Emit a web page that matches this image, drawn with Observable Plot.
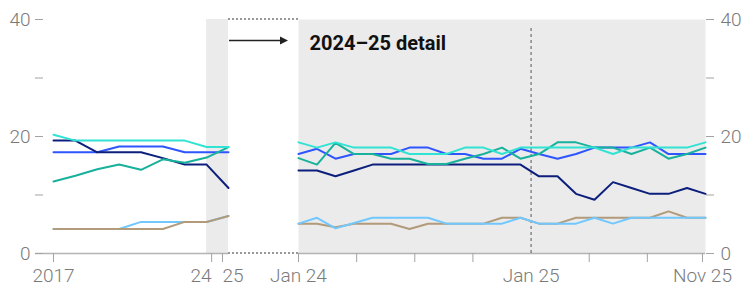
<!DOCTYPE html>
<html><head><meta charset="utf-8">
<script src="https://cdn.jsdelivr.net/npm/d3@7"></script>
<script src="https://cdn.jsdelivr.net/npm/@observablehq/plot@0.6"></script>
<style>
body{margin:0;background:#fff}
#chart{position:relative;width:747px;height:289px}
#chart svg{position:absolute;left:0;top:0}
</style></head><body><div id="chart"></div>
<script>
// ---- data ----
const seriesNames = ["S1 turquoise","S2 blue","S3 navy","S4 teal","S5 sky","S6 sand"];
const seriesColors = ["#30e3d2","#2f55ff","#0c1f7c","#17b19c","#70c8ff","#b19b7a"];

const years = [2017,2018,2019,2020,2021,2022,2023,2024,2025];
const annualS1 = [20.3,19.3,19.3,19.3,19.3,19.3,19.3,18.2,18.2];
const annualS2 = [17.3,17.3,17.3,18.3,18.3,18.3,17.3,17.3,17.3];
const annualS3 = [19.3,19.3,17.3,17.3,17.3,16.3,15.2,15.2,11.2];
const annualS4 = [12.3,13.3,14.4,15.2,14.3,16.1,15.5,16.4,18.2];
const annualS5 = [4.2,4.2,4.2,4.2,5.4,5.4,5.4,5.4,6.4];
const annualS6 = [4.2,4.2,4.2,4.2,4.2,4.2,5.4,5.4,6.4];

const months = ["Jan 24","Feb 24","Mar 24","Apr 24","May 24","Jun 24","Jul 24","Aug 24","Sep 24","Oct 24","Nov 24","Dec 24",
                "Jan 25","Feb 25","Mar 25","Apr 25","May 25","Jun 25","Jul 25","Aug 25","Sep 25","Oct 25","Nov 25"];
const monthlyS1 = [19.0,18.1,19.0,18.1,18.1,18.1,17.0,17.0,17.0,18.1,18.1,17.0,18.1,18.1,18.1,18.1,18.1,17.0,18.1,18.1,18.1,18.1,19.0];
const monthlyS2 = [17.0,17.9,16.2,17.0,17.0,17.0,18.1,18.1,17.0,17.0,16.2,16.2,17.9,17.0,16.2,17.0,18.1,18.1,18.1,19.0,17.0,17.0,17.0];
const monthlyS3 = [14.2,14.2,13.2,14.2,15.2,15.2,15.2,15.2,15.2,15.2,15.2,15.2,15.2,13.2,13.2,10.2,9.2,12.2,11.2,10.2,10.2,11.2,10.2];
const monthlyS4 = [16.3,15.2,18.9,17.0,17.0,16.2,16.2,15.3,15.3,16.2,17.0,18.1,16.2,17.0,19.0,19.0,18.1,18.1,17.0,18.1,16.2,17.0,18.1];
const monthlyS5 = [5.1,6.1,4.3,5.2,6.1,6.1,6.1,6.1,5.1,5.1,5.1,5.1,6.1,5.1,5.1,5.1,6.1,5.1,6.1,6.1,6.1,6.1,6.1];
const monthlyS6 = [5.1,5.1,4.5,5.1,5.1,5.1,4.2,5.1,5.1,5.1,5.1,6.1,6.1,5.1,5.1,6.1,6.1,6.1,6.1,6.1,7.2,6.1,6.1];

const yTicks = [0,10,20,30,40];
const yTickLabels = ["0","","20","","40"];
const leftXTicks = [2017,2024,2025];
const leftXTickLabels = ["2017","24","25"];
const rightTickCount = 8;
const rightTickLabels = ["Jan 24","","","","Jan 25","","","Nov 25"];
const detailLabel = "2024–25 detail";
const shadeYears = [2024,2025];

// ---- build tables ----
const annualSeries = [annualS1, annualS2, annualS3, annualS4, annualS5, annualS6];
const monthlySeries = [monthlyS1, monthlyS2, monthlyS3, monthlyS4, monthlyS5, monthlyS6];
const leftOrder = [4,5,1,2,3,0];
const rightOrder = [5,4,2,1,3,0];
const annual = leftOrder.flatMap(k => years.map((yr,i) => ({s: seriesNames[k], x: yr, v: annualSeries[k][i]})));
const monthly = rightOrder.flatMap(k => months.map((m,i) => ({s: seriesNames[k], x: i, v: monthlySeries[k][i]})));

const W = 747, H = 289;
const font = "Roboto, 'Liberation Sans', sans-serif";
const axisText = "#7a7a7a", axisTick = "#a3a3a3", baseCol = "#b4b4b4";
const baseStyle = {fontFamily: font, fontSize: "19px", fontWeight: 300, background: "none", overflow: "visible"};
const color = {domain: seriesNames, range: seriesColors};
const yTickFmt = d => yTickLabels[yTicks.indexOf(d)];

const left = Plot.plot({
  width: W, height: H,
  marginLeft: 43, insetLeft: 10, marginRight: W - 228, marginTop: 19, marginBottom: 36,
  x: {domain: [years[0], years[years.length-1]], label: null},
  y: {domain: [0, 40], label: null},
  color,
  style: baseStyle,
  marks: [
    Plot.rect([shadeYears], {x1: d => d[0], x2: d => d[1], y1: 0, y2: 40, fill: "#ebebeb"}),
    Plot.ruleY([0], {stroke: baseCol, strokeWidth: 1.6, insetLeft: -8}),
    Plot.axisY({ticks: yTicks, tickFormat: yTickFmt, tickSize: 8, tickPadding: 5, stroke: axisTick, fill: axisText, label: null}),
    Plot.axisX({ticks: [leftXTicks[0]], tickFormat: () => leftXTickLabels[0], tickSize: 9, tickPadding: 6, stroke: axisTick, fill: axisText, label: null}),
    Plot.axisX({ticks: [leftXTicks[1]], tickFormat: () => leftXTickLabels[1], tickSize: 9, tickPadding: 6, textAnchor: "end", dx: 5, stroke: axisTick, fill: axisText, label: null}),
    Plot.axisX({ticks: [leftXTicks[2]], tickFormat: () => leftXTickLabels[2], tickSize: 9, tickPadding: 6, textAnchor: "start", dx: -6, stroke: axisTick, fill: axisText, label: null}),
    Plot.line(annual, {x: "x", y: "v", z: "s", stroke: "s", strokeWidth: 2, strokeLinejoin: "miter"})
  ]
});

const rightTicks = d3.range(rightTickCount).map(k => k * (months.length - 1) / (rightTickCount - 1));
const janIdx = rightTickLabels.indexOf("Jan 25");
const lastIdx = rightTickCount - 1;
const right = Plot.plot({
  width: W, height: H,
  marginLeft: 298, marginRight: 42, marginTop: 19, marginBottom: 36,
  x: {domain: [0, months.length - 1], label: null},
  y: {domain: [0, 40], label: null},
  color,
  style: baseStyle,
  marks: [
    Plot.frame({fill: "#ebebeb", stroke: null}),
    Plot.ruleY([0], {stroke: baseCol, strokeWidth: 1.6}),
    Plot.axisY({anchor: "right", ticks: yTicks, tickFormat: yTickFmt, tickSize: 8, tickPadding: 7, stroke: axisTick, fill: axisText, label: null}),
    Plot.axisX({ticks: rightTicks.filter((t,i) => i !== janIdx && i !== lastIdx), tickFormat: d => rightTickLabels[rightTicks.indexOf(d)], tickSize: 9, tickPadding: 6, stroke: axisTick, fill: axisText, label: null}),
    Plot.axisX({ticks: [rightTicks[lastIdx]], tickFormat: () => rightTickLabels[lastIdx], tickSize: 9, tickPadding: 6, dx: -3, stroke: axisTick, fill: axisText, label: null}),
    Plot.axisX({ticks: [rightTicks[janIdx]], tickFormat: () => rightTickLabels[janIdx], tickSize: 0, tickPadding: 15, fill: axisText, label: null}),
    Plot.ruleX([rightTicks[janIdx]], {y1: 0, y2: 40, insetBottom: -9, stroke: "#555", strokeWidth: 1, strokeDasharray: "3,3"}),
    Plot.line(monthly, {x: "x", y: "v", z: "s", stroke: "s", strokeWidth: 2, strokeLinejoin: "miter"}),
    Plot.text([detailLabel], {x: 0, y: 40, dx: 11, dy: 24, text: d => d, textAnchor: "start", fontWeight: "bold", fontSize: 20, fill: "#111"})
  ]
});

const chart = document.getElementById("chart");
chart.append(left);
chart.append(right);

// connectors drawn from the library's scales
const xl = left.scale("x"), xr = right.scale("x"), ys = left.scale("y");
const xa = xl.apply(years[years.length-1]), xb = xr.apply(0);
const yTop = ys.apply(40), yBot = ys.apply(0);
const ov = d3.select(chart).append("svg").attr("width", W).attr("height", H).style("overflow","visible");
ov.selectAll("line.dot").data([yTop, yBot]).join("line")
  .attr("x1", xa).attr("x2", xb).attr("y1", d => d).attr("y2", d => d)
  .attr("stroke", "#333").attr("stroke-width", 1.2).attr("stroke-dasharray", "2,2");
const ay = yTop + 21.5;
ov.append("line").attr("x1", xa + 1).attr("x2", xb - 16).attr("y1", ay).attr("y2", ay)
  .attr("stroke", "#222").attr("stroke-width", 1.3);
ov.append("path").attr("d", `M${xb-18},${ay-4}L${xb-10},${ay}L${xb-18},${ay+4}Z`).attr("fill", "#222");
</script></body></html>
